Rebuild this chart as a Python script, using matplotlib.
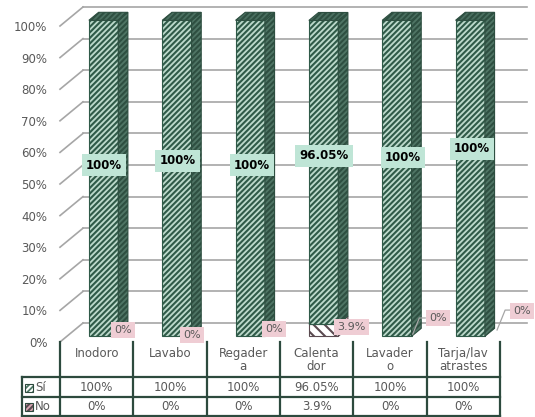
import matplotlib
matplotlib.use('Agg')
import matplotlib.pyplot as plt
import matplotlib.patches as patches
import matplotlib.transforms as mtransforms

plt.rcParams['font.family'] = ['DejaVu Sans']
plt.rcParams['hatch.linewidth'] = 1.5

# datos
categorias = ['Inodoro', 'Lavabo', 'Regadera', 'Calentador', 'Lavadero', 'Tarja/lavatrastes']
cat_tabla = ['Inodoro', 'Lavabo', 'Regader\na', 'Calenta\ndor', 'Lavader\no', 'Tarja/lav\natrastes']
si = [100, 100, 100, 96.05, 100, 100]
no = [0, 0, 0, 3.9, 0, 0]
si_txt = ['100%', '100%', '100%', '96.05%', '100%', '100%']
no_txt = ['0%', '0%', '0%', '3.9%', '0%', '0%']
yticks = list(range(0, 101, 10))

# posiciones de etiquetas (x, y en datos)
pos_si = [(0.10, 56.0), (1.10, 57.3), (2.12, 56.0), (3.10, 58.9), (4.18, 58.5), (5.12, 61.1)]
pos_no = [(0.36, 3.8), (1.30, 2.2), (2.42, 4.1), (3.47, 4.7), (4.65, 7.6), (5.80, 9.8)]
guias = {4: [(4.48, 7.6), (4.40, 7.6), (4.31, 2.5)],
         5: [(5.66, 10.1), (5.57, 10.1), (5.46, 3.8)]}

# colores
VERDE_FRENTE = '#bcd9cb'
VERDE_RAYA = '#2f5a48'
VERDE_LADO = '#4f7565'
VERDE_LADO_RAYA = '#2e4f41'
VERDE_TOPE = '#4a6f60'
LINEA_TABLA = '#2d4a3e'
GRIS = '#595959'
GRID = '#a6a6a6'

W, H = 535, 417
fig = plt.figure(figsize=(W / 100, H / 100), dpi=100)
ax = fig.add_axes([60 / W, (H - 342) / H, 440 / W, 316 / H])
ax.set_xlim(-0.5, 5.5)
ax.set_ylim(0, 100)
for s in ax.spines.values():
    s.set_visible(False)
ax.set_xticks([])
ax.set_yticks(yticks)
ax.set_yticklabels([f'{v}%' for v in yticks], fontsize=8.5, color=GRIS)
ax.tick_params(axis='y', length=0, pad=9)

# profundidad (vector oblicuo en unidades de datos)
DX, DY = 23 / (440 / 6), 19 / 3.16
D0, D1 = 0.30, 0.72
DD = D1 - D0

# pared del fondo
for v in yticks:
    ax.plot([-0.5, -0.5 + DX], [v, v + DY], color=GRID, lw=1.2, clip_on=False, zorder=1)
    ax.plot([-0.5 + DX, 5.87], [v + DY, v + DY], color=GRID, lw=1.2, clip_on=False, zorder=1)


def caja3d(xc, y0, y1, frente, raya_f, lado, raya_l, tope, hatch_f, hatch_l):
    xl = xc - 0.2 + D0 * DX
    xr = xc + 0.2 + D0 * DX
    b = y0 + D0 * DY
    t = y1 + D0 * DY
    ax.bar(xl + 0.2, y1 - y0, width=0.4, bottom=b, color=frente, edgecolor=raya_f,
           hatch=hatch_f, linewidth=0.8, zorder=3, clip_on=False)
    ax.add_patch(patches.Polygon([(xr, b), (xr + DD * DX, b + DD * DY),
                                  (xr + DD * DX, t + DD * DY), (xr, t)],
                                 closed=True, facecolor=lado, edgecolor=raya_l,
                                 hatch=hatch_l, lw=0.8, zorder=3, clip_on=False))
    ax.add_patch(patches.Polygon([(xl, t), (xr, t), (xr + DD * DX, t + DD * DY),
                                  (xl + DD * DX, t + DD * DY)],
                                 closed=True, facecolor=tope, edgecolor=raya_l,
                                 hatch=hatch_l, lw=0.8, zorder=3, clip_on=False))


for i in range(len(categorias)):
    if no[i] > 0:
        caja3d(i, 0, no[i], 'white', '#5a4a50', '#d9b8c0', '#5a4a50', '#d9b8c0', '\\\\\\', '\\\\\\')
    caja3d(i, no[i], no[i] + si[i], VERDE_FRENTE, VERDE_RAYA, VERDE_LADO, VERDE_LADO_RAYA,
           VERDE_TOPE, '//////', '//////')

# etiquetas de datos
for i in range(len(categorias)):
    x, y = pos_si[i]
    ax.text(x, y, si_txt[i], ha='center', va='center', fontsize=8.5, fontweight='bold',
            color='black', zorder=5,
            bbox=dict(boxstyle='square,pad=0.35', fc='#bfe5d6', ec='none'))
    x, y = pos_no[i]
    ax.text(x, y, no_txt[i], ha='center', va='center', fontsize=8, color=GRIS, zorder=5,
            clip_on=False, bbox=dict(boxstyle='square,pad=0.3', fc='#efcdd4', ec='none'))
for k, pts in guias.items():
    ax.plot([p[0] for p in pts], [p[1] for p in pts], color=GRID, lw=0.9, zorder=4, clip_on=False)

# tabla de datos
tr = mtransforms.blended_transform_factory(ax.transData, ax.transAxes)


def ya(py):
    return (342 - py) / 316


x_izq = -0.5 - 38 / (440 / 6)
for k in range(len(categorias) + 1):
    ax.plot([-0.5 + k, -0.5 + k], [ya(342), ya(416)], color=LINEA_TABLA, lw=1.6,
            transform=tr, clip_on=False)
ax.plot([x_izq, x_izq], [ya(377), ya(416)], color=LINEA_TABLA, lw=1.6, transform=tr, clip_on=False)
for py in (377, 397, 416):
    ax.plot([x_izq, 5.5], [ya(py), ya(py)], color=LINEA_TABLA, lw=1.6, transform=tr, clip_on=False)

for i, lab in enumerate(cat_tabla):
    ax.text(i, ya(347), lab, ha='center', va='top', fontsize=8.5, color=GRIS,
            linespacing=0.95, transform=tr, clip_on=False)
    ax.text(i, ya(387.5), si_txt[i], ha='center', va='center', fontsize=8.5, color=GRIS,
            transform=tr, clip_on=False)
    ax.text(i, ya(407), no_txt[i], ha='center', va='center', fontsize=8.5, color=GRIS,
            transform=tr, clip_on=False)

# claves de leyenda
kw = 8 / (440 / 6)
kh = 8 / 316
for py, fc, hc, txt in ((387.5, '#4e7a66', 'white', 'Sí'), (407, '#d7a8b4', '#5a4a50', 'No')):
    ax.add_patch(patches.Rectangle((x_izq + 0.04, ya(py) - kh / 2), kw, kh, transform=tr,
                                   facecolor=fc, edgecolor=hc, hatch='//////', lw=0,
                                   clip_on=False, zorder=5))
    ax.add_patch(patches.Rectangle((x_izq + 0.04, ya(py) - kh / 2), kw, kh, transform=tr,
                                   facecolor='none', edgecolor=LINEA_TABLA, lw=0.8,
                                   clip_on=False, zorder=6))
    ax.text(x_izq + 0.04 + kw + 0.03, ya(py), txt, ha='left', va='center', fontsize=8.5,
            color=GRIS, transform=tr, clip_on=False)

fig.savefig('out.png', dpi=100)
